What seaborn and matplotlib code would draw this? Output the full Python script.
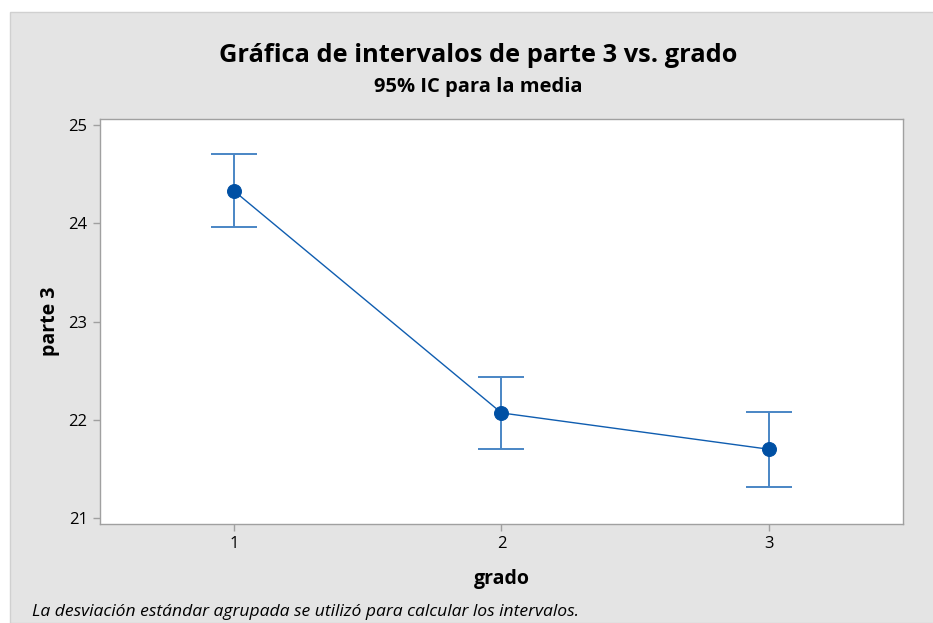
import numpy as np
import pandas as pd
import seaborn as sns
import matplotlib.pyplot as plt
from matplotlib.patches import Rectangle

# values
grado = [1, 2, 3]
media = [24.33, 22.07, 21.70]
ic_inferior = [23.96, 21.70, 21.32]
ic_superior = [24.70, 22.44, 22.08]
y_ticks = [21, 22, 23, 24, 25]


def main():
    df = pd.DataFrame({'grado': grado, 'parte 3': media})
    lo = np.array(media) - np.array(ic_inferior)
    hi = np.array(ic_superior) - np.array(media)

    sns.set_theme(style="white")
    plt.rcParams['font.family'] = ['Open Sans', 'DejaVu Sans']
    plt.rcParams['text.color'] = 'black'
    plt.rcParams['axes.labelcolor'] = 'black'

    fig = plt.figure(figsize=(9.33, 6.23), dpi=100)
    fig.patch.set_facecolor('white')
    fig.patches.append(Rectangle((10 / 933, 0), 1, 1 - 12 / 623, transform=fig.transFigure,
                                 facecolor='#e4e4e4', edgecolor='#d0d0d0', lw=1, zorder=-10))

    ax = fig.add_axes([100 / 933, 1 - 524 / 623, 803 / 933, 405 / 623])
    ax.set_facecolor('white')

    ax.errorbar(df['grado'], df['parte 3'], yerr=[lo, hi], fmt='none',
                ecolor='#4a86c5', elinewidth=1.4, capsize=16.5, capthick=1.4, zorder=2)
    sns.lineplot(data=df, x='grado', y='parte 3', ax=ax, color='#0f5db0', lw=1.0,
                 marker='o', markersize=10, markerfacecolor='#0050a4',
                 markeredgecolor='#0050a4', zorder=3)

    ax.set_xlim(0.5, 3.5)
    ax.set_ylim(20.94, 25.06)
    ax.set_xticks(grado)
    ax.set_yticks(y_ticks)
    ax.tick_params(axis='both', which='major', length=5, width=1, color='#a0a0a0',
                   direction='out', labelsize=12, labelcolor='black', pad=4,
                   bottom=True, left=True)
    for s in ax.spines.values():
        s.set_color('#a0a0a0')
        s.set_linewidth(1)

    ax.set_xlabel('grado', fontsize=14, fontweight='bold', labelpad=12)
    ax.set_ylabel('parte 3', fontsize=14, fontweight='bold', labelpad=6)

    fig.text(478 / 933, 1 - 55 / 623, 'Gráfica de intervalos de parte 3 vs. grado',
             ha='center', va='center', fontsize=18.3, fontweight='bold')
    fig.text(478 / 933, 1 - 87 / 623, '95% IC para la media',
             ha='center', va='center', fontsize=14.5, fontweight='bold')
    fig.text(32 / 933, 1 - 612 / 623,
             'La desviación estándar agrupada se utilizó para calcular los intervalos.',
             ha='left', va='center', fontsize=12.6, style='italic')

    fig.savefig('out.png', dpi=100)
    plt.close(fig)


if __name__ == '__main__':
    main()
